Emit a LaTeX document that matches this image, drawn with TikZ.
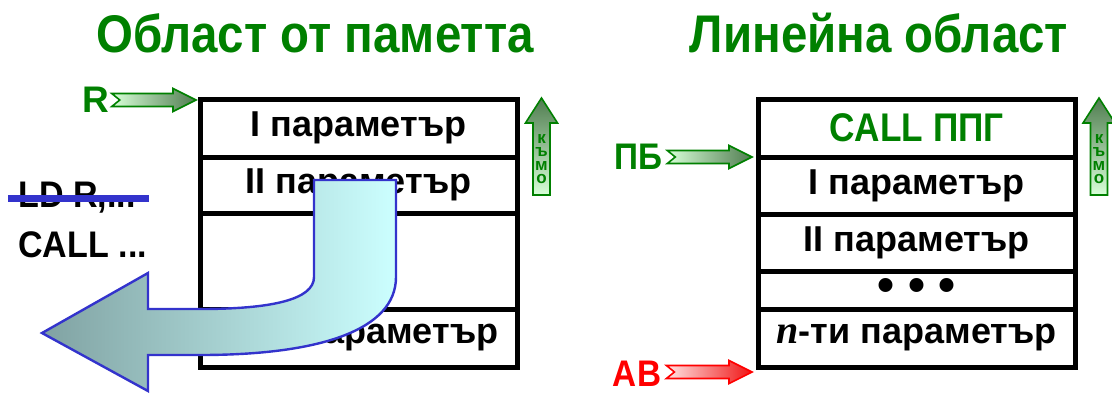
\documentclass[tikz,border=0pt]{standalone}
\usepackage{fontspec}
\setmainfont{Liberation Sans}
\newfontfamily\nfont{Liberation Serif}
\usetikzlibrary{positioning,calc}
\definecolor{kgreen}{RGB}{0,128,0}
\definecolor{kblue}{RGB}{51,51,204}
\definecolor{kred}{RGB}{255,0,0}
\definecolor{glight}{RGB}{216,255,216}
\definecolor{gdark}{RGB}{80,124,80}
\definecolor{rlight}{RGB}{255,228,228}
\definecolor{rdark}{RGB}{240,20,20}
\definecolor{alight}{RGB}{204,255,255}
\definecolor{adark}{RGB}{128,162,162}
\newcommand*{\blockarrow}[3]{%
  % #1: tail, #2: tip, #3: colours
  \shadedraw[#3] let \p1=(#1), \p2=(#2) in
    (\x1,\y2+3.25pt) -- (\x2-11.5pt,\y2+3.25pt) -- (\x2-11.5pt,\y2+5.75pt) -- (\x2,\y2)
    -- (\x2-11.5pt,\y2-5.75pt) -- (\x2-11.5pt,\y2-3.25pt) -- (\x1,\y2-3.25pt)
    -- (\x1+4pt,\y2) -- cycle;
}

\begin{document}
\begin{tikzpicture}[x=0.5pt, y=-0.5pt,
  cell/.style={draw, line width=2.5pt, minimum width=158.5pt, inner sep=0pt, outer sep=0pt,
    font=\bfseries\fontsize{18}{21}\selectfont},
  title/.style={text=kgreen, inner sep=0pt, xscale=.895, font=\bfseries\fontsize{26.5}{30}\selectfont},
  lbl/.style={inner sep=0pt, font=\bfseries\fontsize{18.5}{22}\selectfont},
  greenarrow/.style={draw=kgreen, line width=.8pt, left color=glight, right color=gdark},
  redarrow/.style={draw=kred, line width=.8pt, left color=rlight, right color=rdark},
  kymarrow/.style={draw=kgreen, line width=.8pt, top color=gdark, bottom color=glight},
  kymtext/.style={text=kgreen, inner sep=0pt, align=center, font=\bfseries\fontsize{8.5}{6.6}\selectfont}]
\useasboundingbox (0,0) rectangle (1112,393);

\node[title] (t1) at (315,33) {Област от паметта};
\node[title] (t2) at (879,33) {Линейна област};

% memory area
\node[cell, anchor=north, minimum height=29pt] (l1) at (358.5,99) {I параметър};
\node[cell, below=0pt of l1, minimum height=28pt] (l2) {II параметър};
\node[cell, below=0pt of l2, minimum height=48pt] (l3) {};
\node[cell, below=0pt of l3, minimum height=29pt] (l4) {{\nfont\bfseries\itshape\fontsize{20}{21}\selectfont n}-ти параметър};

% linear area
\node[cell, anchor=north, minimum height=29pt] (r1) at (916.5,99) {\textcolor{kgreen}{\fontsize{20}{22}\selectfont\scalebox{.88}[1]{CALL ППГ}}};
\node[cell, below=0pt of r1, minimum height=28.5pt] (r2) {I параметър};
\node[cell, below=0pt of r2, minimum height=28.5pt] (r3) {II параметър};
\node[cell, below=0pt of r3, minimum height=19pt] (r4) {\scalebox{1.35}{\textbullet}\hspace{6.5pt}\scalebox{1.35}{\textbullet}\hspace{6.5pt}\scalebox{1.35}{\textbullet}};
\node[cell, below=0pt of r4, minimum height=29pt] (r5) {{\nfont\bfseries\itshape\fontsize{20}{21}\selectfont n}-ти параметър};

% pointers
\node[lbl, text=kgreen] (R) at (96,100) {R};
\node[lbl, text=kgreen, xscale=.9] (PB) at (638,157) {ПБ};
\node[lbl, text=kred, xscale=.9] (AB) at (637,374) {АВ};
\coordinate (Rt) at ($(R.east)+(2,0)$);
\coordinate (PBt) at ($(PB.east)+(5,0)$);
\coordinate (ABt) at ($(AB.east)+(5,0)$);
\coordinate (Rh) at ($(l1.north west)+(-4,1)$);
\coordinate (PBh) at ($(r2.north west)+(-6,0)$);
\coordinate (ABh) at ($(r5.south west)+(-6,5)$);
\blockarrow{Rt}{Rh}{greenarrow}
\blockarrow{PBt}{PBh}{greenarrow}
\blockarrow{ABt}{ABh}{redarrow}

% direction arrows
\foreach \cx/\nm in {541.5/kymL, 1099/kymR}{
  \shadedraw[kymarrow] (\cx-8.5,195) -- (\cx-8.5,123) -- (\cx-16,123) -- (\cx,98)
    -- (\cx+16,123) -- (\cx+8.5,123) -- (\cx+8.5,195) -- cycle;
  \node[kymtext] (\nm) at (\cx,159) {к\\ъ\\м\\о};
}

% code
\node[lbl, anchor=west, xscale=.92] (ld) at (18,198) {LD R,...};
\node[lbl, anchor=west, xscale=.92] (call) at (18,245) {CALL ...};
\draw[kblue, line width=3.5pt] ($(ld.west)+(-10,0)$) -- ($(ld.east)+(13,0)$);

% return arrow
\shadedraw[draw=kblue, line width=1.2pt, left color=adark, right color=alight]
  (314,180) -- (396,180) -- (396,277) .. controls (396,330) and (320,355) .. (200,355)
  -- (148,355) -- (148,391) -- (42,333) -- (148,273) -- (148,309) -- (200,309)
  .. controls (270,309) and (314,300) .. (314,277) -- cycle;
\end{tikzpicture}
\end{document}
